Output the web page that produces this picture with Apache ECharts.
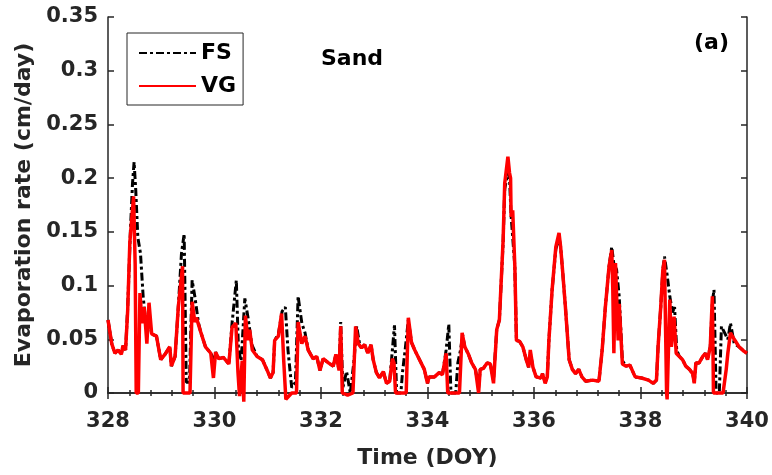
<!DOCTYPE html>
<html>
<head>
<meta charset="utf-8">
<script src="https://cdn.jsdelivr.net/npm/echarts@6/dist/echarts.min.js"></script>
<style>
html,body{margin:0;padding:0;background:#fff;}
#c{width:772px;height:475px;}
</style>
</head>
<body>
<div id="c"></div>
<script>
// ---- Data (Time in DOY, evaporation rate in cm/day) ----
var vgTime = [328.00,328.07,328.13,328.19,328.25,328.28,328.33,328.37,328.41,328.48,328.51,328.53,328.57,328.60,328.64,328.68,328.73,328.77,328.82,328.91,328.99,329.07,329.16,329.19,329.26,329.32,329.40,329.41,329.45,329.54,329.58,329.63,329.66,329.74,329.83,329.93,329.98,330.02,330.08,330.17,330.27,330.33,330.40,330.44,330.47,330.52,330.55,330.58,330.63,330.66,330.71,330.80,330.90,330.99,331.05,331.10,331.13,331.20,331.26,331.30,331.34,331.45,331.54,331.57,331.64,331.70,331.76,331.85,331.92,331.98,332.04,332.14,332.23,332.28,332.34,332.37,332.40,332.50,332.60,332.65,332.70,332.76,332.82,332.88,332.94,332.98,333.04,333.10,333.17,333.23,333.29,333.34,333.37,333.40,333.50,333.60,333.64,333.70,333.76,333.85,333.94,334.00,334.03,334.13,334.22,334.28,334.35,334.38,334.50,334.60,334.65,334.70,334.77,334.83,334.90,334.96,334.99,335.05,335.12,335.18,335.24,335.30,335.35,335.42,335.45,335.51,335.54,335.56,335.57,335.60,335.64,335.67,335.73,335.79,335.86,335.90,335.93,335.98,336.04,336.13,336.16,336.21,336.25,336.28,336.34,336.41,336.47,336.50,336.54,336.59,336.66,336.72,336.78,336.84,336.90,336.97,337.10,337.22,337.28,337.34,337.41,337.46,337.48,337.50,337.53,337.58,337.60,337.66,337.73,337.80,337.90,338.02,338.15,338.24,338.30,338.33,338.38,338.42,338.45,338.49,338.50,338.55,338.58,338.63,338.67,338.73,338.79,338.85,338.92,338.98,339.01,339.04,339.10,339.17,339.22,339.26,339.31,339.35,339.37,339.45,339.55,339.61,339.64,339.69,339.76,339.85,339.94,340.00];
var vgRate = [0.068,0.046,0.037,0.040,0.036,0.044,0.040,0.077,0.140,0.183,0.120,0.000,0.000,0.093,0.065,0.080,0.046,0.084,0.055,0.053,0.031,0.036,0.043,0.025,0.034,0.080,0.118,0.000,0.000,0.000,0.085,0.066,0.070,0.057,0.043,0.037,0.014,0.038,0.032,0.033,0.027,0.061,0.065,0.020,-0.003,0.030,-0.008,0.072,0.049,0.059,0.040,0.034,0.031,0.021,0.014,0.019,0.049,0.053,0.074,0.030,-0.006,0.000,0.000,0.066,0.046,0.053,0.040,0.032,0.034,0.021,0.032,0.028,0.025,0.036,0.021,0.062,0.000,-0.002,0.000,0.062,0.046,0.042,0.045,0.037,0.045,0.031,0.019,0.014,0.020,0.009,0.011,0.032,0.028,0.000,0.000,0.000,0.070,0.047,0.040,0.031,0.022,0.009,0.015,0.015,0.019,0.017,0.037,0.000,0.000,0.000,0.056,0.043,0.036,0.028,0.022,0.000,0.022,0.023,0.028,0.027,0.009,0.059,0.068,0.142,0.195,0.220,0.205,0.200,0.164,0.170,0.118,0.049,0.048,0.043,0.030,0.024,0.040,0.024,0.015,0.014,0.018,0.009,0.015,0.049,0.096,0.136,0.149,0.136,0.112,0.080,0.031,0.022,0.018,0.022,0.015,0.011,0.012,0.011,0.040,0.080,0.118,0.133,0.096,0.037,0.121,0.049,0.083,0.027,0.025,0.026,0.015,0.014,0.012,0.009,0.012,0.043,0.080,0.115,0.124,0.000,-0.006,0.087,0.043,0.071,0.037,0.034,0.031,0.025,0.022,0.018,0.009,0.028,0.028,0.034,0.037,0.031,0.043,0.090,0.000,0.000,0.000,0.022,0.037,0.056,0.050,0.043,0.039,0.037];

var fsTime = [328.00,328.07,328.13,328.19,328.25,328.28,328.33,328.37,328.42,328.46,328.49,328.52,328.56,328.61,328.66,328.72,328.77,328.82,328.91,328.99,329.07,329.16,329.19,329.26,329.32,329.38,329.43,329.47,329.53,329.58,329.63,329.70,329.74,329.83,329.93,329.98,330.02,330.08,330.17,330.27,330.33,330.41,330.45,330.50,330.57,330.63,330.70,330.80,330.90,330.99,331.05,331.10,331.13,331.20,331.27,331.33,331.38,331.45,331.52,331.57,331.64,331.70,331.76,331.85,331.92,331.98,332.04,332.14,332.23,332.28,332.34,332.37,332.41,332.48,332.55,332.62,332.67,332.72,332.76,332.82,332.88,332.94,332.98,333.04,333.10,333.17,333.23,333.29,333.34,333.38,333.42,333.50,333.53,333.58,333.64,333.70,333.76,333.85,333.94,334.00,334.03,334.13,334.22,334.28,334.35,334.40,334.44,334.53,334.57,334.62,334.66,334.70,334.77,334.83,334.90,334.96,334.99,335.05,335.12,335.18,335.24,335.30,335.35,335.42,335.45,335.51,335.54,335.57,335.60,335.64,335.67,335.73,335.79,335.86,335.90,335.93,335.98,336.04,336.13,336.16,336.21,336.25,336.28,336.34,336.41,336.47,336.50,336.54,336.59,336.66,336.72,336.78,336.84,336.90,336.97,337.10,337.22,337.28,337.34,337.41,337.46,337.50,337.55,337.60,337.66,337.73,337.80,337.90,338.02,338.15,338.24,338.30,338.33,338.38,338.42,338.45,338.50,338.55,338.60,338.64,338.68,338.73,338.79,338.85,338.92,338.98,339.01,339.04,339.10,339.17,339.22,339.26,339.31,339.35,339.38,339.42,339.48,339.52,339.58,339.64,339.69,339.76,339.85,339.94,340.00];
var fsRate = [0.068,0.046,0.037,0.040,0.036,0.044,0.040,0.080,0.150,0.195,0.215,0.190,0.145,0.130,0.090,0.060,0.070,0.055,0.053,0.031,0.036,0.043,0.025,0.034,0.080,0.130,0.148,0.010,0.010,0.105,0.090,0.065,0.057,0.043,0.037,0.032,0.038,0.032,0.033,0.027,0.065,0.105,0.040,0.030,0.088,0.070,0.045,0.034,0.031,0.021,0.014,0.019,0.049,0.055,0.076,0.080,0.040,0.005,0.010,0.090,0.065,0.056,0.040,0.032,0.034,0.021,0.032,0.028,0.025,0.036,0.021,0.066,0.005,0.020,0.000,0.030,0.062,0.047,0.042,0.045,0.037,0.045,0.031,0.019,0.014,0.020,0.009,0.011,0.040,0.063,0.000,0.000,0.019,0.040,0.068,0.047,0.040,0.031,0.022,0.009,0.015,0.015,0.019,0.017,0.040,0.064,0.000,0.000,0.028,0.040,0.054,0.043,0.036,0.028,0.022,0.005,0.022,0.023,0.028,0.027,0.012,0.059,0.068,0.140,0.190,0.205,0.200,0.165,0.165,0.118,0.049,0.048,0.043,0.030,0.024,0.038,0.024,0.015,0.014,0.018,0.010,0.015,0.049,0.096,0.134,0.145,0.136,0.112,0.080,0.031,0.022,0.018,0.022,0.015,0.011,0.012,0.011,0.040,0.080,0.118,0.136,0.120,0.115,0.090,0.030,0.025,0.026,0.015,0.014,0.012,0.009,0.012,0.043,0.080,0.115,0.127,0.110,0.090,0.075,0.080,0.040,0.034,0.031,0.025,0.022,0.018,0.010,0.028,0.028,0.034,0.037,0.031,0.043,0.085,0.096,0.000,0.000,0.062,0.056,0.050,0.065,0.046,0.043,0.039,0.037];

var xTicks = {min: 328, max: 340, step: 2};
var yTicks = {min: 0, max: 0.35, step: 0.05};
var legendNames = ['FS', 'VG'];
var soilLabel = 'Sand';
var panelLabel = '(a)';

function pairs(t, v) { return t.map(function (x, i) { return [x, v[i]]; }); }

var FONT = 'DejaVu Sans';
var INK = '#262626';
var axisLineStyle = {lineStyle: {color: INK, width: 1.5}};

var chart = echarts.init(document.getElementById('c'), null, {renderer: 'canvas'});
chart.setOption({
  animation: false,
  backgroundColor: '#fff',
  grid: {left: 108, right: 25, top: 17, bottom: 82, containLabel: false},
  xAxis: [{
    type: 'value', min: xTicks.min, max: xTicks.max, interval: xTicks.step, position: 'bottom',
    name: 'Time (DOY)', nameLocation: 'middle', nameGap: 54,
    nameTextStyle: {fontFamily: FONT, fontWeight: 'bold', fontSize: 22, color: INK},
    axisLine: axisLineStyle,
    axisTick: {inside: true, length: 6, lineStyle: {color: INK, width: 1.5}},
    minorTick: {show: true, splitNumber: 5, length: 3, lineStyle: {color: INK, width: 1.5}},
    axisLabel: {fontFamily: FONT, fontWeight: 'bold', fontSize: 21, color: INK, margin: 18},
    splitLine: {show: false}
  }, {
    type: 'value', min: xTicks.min, max: xTicks.max, interval: xTicks.step, position: 'top',
    axisLine: axisLineStyle,
    axisTick: {inside: true, length: 6, lineStyle: {color: INK, width: 1.5}},
    minorTick: {show: true, splitNumber: 5, length: 3, lineStyle: {color: INK, width: 1.5}},
    axisLabel: {show: false}, splitLine: {show: false}
  }],
  yAxis: [{
    type: 'value', min: yTicks.min, max: yTicks.max, interval: yTicks.step, position: 'left',
    name: 'Evaporation rate (cm/day)', nameLocation: 'middle', nameGap: 71, nameRotate: 90,
    nameTextStyle: {fontFamily: FONT, fontWeight: 'bold', fontSize: 22, color: INK},
    axisLine: {show: true, lineStyle: {color: INK, width: 1.5}},
    axisTick: {show: true, inside: true, length: 6, lineStyle: {color: INK, width: 1.5}},
    axisLabel: {fontFamily: FONT, fontWeight: 'bold', fontSize: 21, color: INK, margin: 10},
    splitLine: {show: false}
  }, {
    type: 'value', min: yTicks.min, max: yTicks.max, interval: yTicks.step, position: 'right',
    axisLine: {show: true, lineStyle: {color: INK, width: 1.5}},
    axisTick: {show: true, inside: true, length: 6, lineStyle: {color: INK, width: 1.5}},
    axisLabel: {show: false}, splitLine: {show: false}
  }],
  legend: {
    data: legendNames, orient: 'vertical', left: 127, top: 33,
    padding: [9, 7, 8, 11], itemGap: 11, itemWidth: 57, itemHeight: 14,
    borderColor: INK, borderWidth: 1, backgroundColor: '#fff',
    itemStyle: {color: 'rgba(0,0,0,0)', borderWidth: 0, opacity: 0},
    textStyle: {fontFamily: FONT, fontWeight: 'bold', fontSize: 22, color: '#000', lineHeight: 22}
  },
  graphic: [{
    type: 'text', left: 353 - 32, top: 48,
    style: {text: soilLabel, font: 'bold 22px "DejaVu Sans"', fill: '#000'}
  }, {
    type: 'text', right: 772 - 729, top: 32,
    style: {text: panelLabel, font: 'bold 22px "DejaVu Sans"', fill: '#000'}
  }],
  series: [{
    name: legendNames[0], type: 'line', data: pairs(fsTime, fsRate),
    symbol: 'none', clip: false, z: 2,
    lineStyle: {color: '#000', width: 3, type: [8, 3, 3, 3]},
    itemStyle: {color: '#000'}
  }, {
    name: legendNames[1], type: 'line', data: pairs(vgTime, vgRate),
    symbol: 'none', clip: false, z: 3,
    lineStyle: {color: '#ff0000', width: 3.5},
    itemStyle: {color: '#ff0000'}
  }]
});
</script>
</body>
</html>
